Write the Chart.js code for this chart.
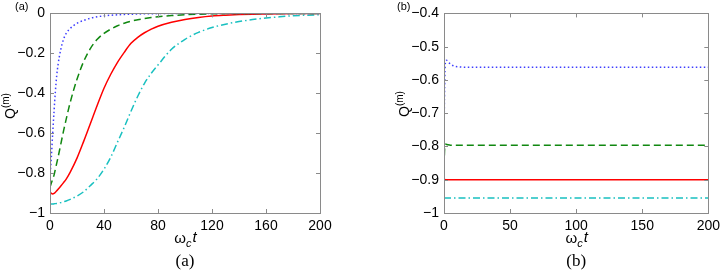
<!DOCTYPE html>
<html>
<head>
<meta charset="utf-8">
<script src="https://cdn.jsdelivr.net/npm/chart.js@4"></script>
<style>
  body { margin: 0; background: #fff; }
  #wrap { position: relative; width: 725px; height: 275px; }
  canvas { position: absolute; top: 0; }
</style>
</head>
<body>
<div id="wrap">
  <canvas id="ca" width="362" height="275" style="left:0"></canvas>
  <canvas id="cb" width="363" height="275" style="left:362px"></canvas>
</div>
<script>
// panel (a): omega_c t
const tA = [0,1,2,3,4,5,6,8,10,12, 15,20,25,30,35,40,45,50,55,60, 65,70,75,80,90,100,110,120,130,140, 150,160,170,180,190,200];
const blueA = [-0.82,-0.72,-0.6,-0.49,-0.39,-0.31,-0.255,-0.18,-0.13,-0.1, -0.075,-0.05,-0.035,-0.024,-0.017,-0.012,-0.009,-0.007,-0.005,-0.004, -0.003,-0.002,-0.002,-0.001,-0.001,0,0,0,0,0, 0,0,0,0,0,0];
const greenA = [-0.87,-0.85,-0.83,-0.81,-0.78,-0.75,-0.72,-0.655,-0.59,-0.53, -0.445,-0.33,-0.24,-0.175,-0.13,-0.1,-0.079,-0.062,-0.049,-0.039, -0.032,-0.026,-0.021,-0.017,-0.011,-0.007,-0.004,-0.002,-0.001,0, 0,0,0,0,0,0];
const redA = [-0.895,-0.902,-0.905,-0.902,-0.896,-0.889,-0.881,-0.865,-0.848,-0.83, -0.795,-0.725,-0.64,-0.55,-0.46,-0.375,-0.305,-0.245,-0.195,-0.15, -0.12,-0.097,-0.079,-0.064,-0.044,-0.03,-0.02,-0.013,-0.009,-0.006, -0.004,-0.003,-0.002,-0.001,-0.001,-0.001];
const cyanA = [-0.955,-0.955,-0.955,-0.954,-0.953,-0.952,-0.951,-0.948,-0.944,-0.94, -0.932,-0.915,-0.893,-0.862,-0.828,-0.78,-0.72,-0.645,-0.57,-0.49, -0.415,-0.35,-0.3,-0.258,-0.18,-0.13,-0.095,-0.071,-0.054,-0.041, -0.031,-0.023,-0.017,-0.012,-0.009,-0.007];

// panel (b)
const tB = [0,0.5,1,2,3,5,8,12,20,50,100,150,200];
const blueB = [-0.77,-0.62,-0.55,-0.541,-0.545,-0.553,-0.559,-0.561,-0.562,-0.562,-0.562,-0.562,-0.562];
const greenB = [-0.86,-0.805,-0.793,-0.794,-0.795,-0.796,-0.796,-0.796,-0.796,-0.796,-0.796,-0.796,-0.796];
const redB = [-0.89,-0.9,-0.9,-0.9,-0.9,-0.9,-0.9,-0.9,-0.9,-0.9,-0.9,-0.9,-0.9];
const cyanB = [-0.955,-0.955,-0.955,-0.955,-0.955,-0.955,-0.955,-0.955,-0.955,-0.955,-0.955,-0.955,-0.955];

const xTicksA = [0,40,80,120,160,200];
const yTicksA = [0,-0.2,-0.4,-0.6,-0.8,-1];
const xTicksB = [0,50,100,150,200];
const yTicksB = [-0.4,-0.5,-0.6,-0.7,-0.8,-0.9,-1];

const frameColor = '#8a8a8a';
const sans = '"Liberation Sans", Arial, sans-serif';
const serif = '"Liberation Serif", "Times New Roman", serif';

function pts(xs, ys) { return xs.map((x, i) => ({ x: x, y: ys[i] })); }

function fmt(v) {
  const r = Math.round(v * 10) / 10;
  if (r === 0) return '0';
  return (r < 0 ? '\u2212' : '') + String(Math.abs(r));
}

const deco = {
  id: 'deco',
  afterDraw(chart, args, o) {
    const ctx = chart.ctx, a = chart.chartArea;
    const xs = chart.scales.x, ys = chart.scales.y;
    ctx.save();
    ctx.strokeStyle = frameColor;
    ctx.lineWidth = 1;
    ctx.strokeRect(Math.round(a.left) + 0.5, Math.round(a.top) + 0.5, Math.round(a.right - a.left), Math.round(a.bottom - a.top));
    ctx.beginPath();
    xs.ticks.forEach(t => {
      const p = Math.round(xs.getPixelForValue(t.value)) + 0.5;
      ctx.moveTo(p, a.bottom); ctx.lineTo(p, a.bottom - 4);
      ctx.moveTo(p, a.top); ctx.lineTo(p, a.top + 4);
    });
    ys.ticks.forEach(t => {
      const p = Math.round(ys.getPixelForValue(t.value)) + 0.5;
      ctx.moveTo(a.left, p); ctx.lineTo(a.left + 4, p);
      ctx.moveTo(a.right, p); ctx.lineTo(a.right - 4, p);
    });
    ctx.stroke();

    ctx.fillStyle = '#000';
    ctx.textBaseline = 'alphabetic';
    // x title: omega_c t
    const cx = (a.left + a.right) / 2;
    ctx.font = '15px ' + sans;
    const w1 = ctx.measureText('\u03c9').width;
    ctx.font = 'italic 11px ' + sans;
    const w2 = ctx.measureText('c').width;
    ctx.font = 'italic 15px ' + sans;
    const w3 = ctx.measureText('t').width;
    let x0 = cx - (w1 + w2 + w3) / 2;
    ctx.textAlign = 'left';
    ctx.font = '15px ' + sans;
    ctx.fillText('\u03c9', x0, 243);
    ctx.font = 'italic 11px ' + sans;
    ctx.fillText('c', x0 + w1, 247);
    ctx.font = 'italic 15px ' + sans;
    ctx.fillText('t', x0 + w1 + w2 + 1, 242);

    // y title: Q^(m)
    ctx.save();
    ctx.translate(o.qx, o.qy);
    ctx.rotate(-Math.PI / 2);
    ctx.font = '14px ' + sans;
    const wq = ctx.measureText('Q').width;
    ctx.font = '10px ' + sans;
    const wm = ctx.measureText('(m)').width;
    const s = -(wq + wm) / 2;
    ctx.font = '14px ' + sans;
    ctx.fillText('Q', s, 0);
    ctx.font = '10px ' + sans;
    ctx.fillText('(m)', s + wq, -6);
    ctx.restore();

    // panel tag
    ctx.font = '11px ' + sans;
    ctx.fillText(o.tag, o.tagx, 10);

    // caption
    ctx.font = '17px ' + serif;
    ctx.textAlign = 'center';
    ctx.fillText(o.tag, cx, 266);
    ctx.restore();
  }
};

function series(xs, b, g, r, c) {
  const base = { fill: false, pointRadius: 0, borderWidth: 1.5, cubicInterpolationMode: 'monotone' };
  return [
    Object.assign({ data: pts(xs, b), borderColor: '#3d3dff', borderDash: [1.5, 2.5] }, base),
    Object.assign({ data: pts(xs, g), borderColor: '#118811', borderDash: [7, 4] }, base),
    Object.assign({ data: pts(xs, r), borderColor: '#ff0000' }, base),
    Object.assign({ data: pts(xs, c), borderColor: '#19c0c0', borderDash: [7, 3, 1.5, 3] }, base)
  ];
}

function makeChart(id, datasets, xt, yt, yw, padRight, deco_opts) {
  new Chart(document.getElementById(id), {
    type: 'line',
    data: { datasets: datasets },
    options: {
      responsive: false,
      animation: false,
      layout: { padding: { top: 5, right: padRight, bottom: 0, left: 0 } },
      plugins: { legend: { display: false }, tooltip: { enabled: false }, deco: deco_opts },
      scales: {
        x: {
          type: 'linear', min: xt[0], max: xt[xt.length - 1],
          grid: { display: false, drawTicks: false },
          border: { display: false },
          afterBuildTicks: s => { s.ticks = xt.map(v => ({ value: v })); },
          afterFit: s => { s.height = 62; },
          ticks: { color: '#000', padding: 5, maxRotation: 0, font: { size: 14, family: sans }, callback: v => String(v) }
        },
        y: {
          min: yt[yt.length - 1], max: yt[0],
          grid: { display: false, drawTicks: false },
          border: { display: false },
          afterBuildTicks: s => { s.ticks = yt.map(v => ({ value: v })); },
          afterFit: s => { s.width = yw; },
          ticks: { color: '#000', padding: 5, font: { size: 14, family: sans }, callback: v => fmt(v) }
        }
      }
    },
    plugins: [deco]
  });
}

makeChart('ca', series(tA, blueA, greenA, redA, cyanA), xTicksA, yTicksA, 50, 42,
  { tag: '(a)', tagx: 15, qx: 15, qy: 106 });
makeChart('cb', series(tB, blueB, greenB, redB, cyanB), xTicksB, yTicksB, 82, 11,
  { tag: '(b)', tagx: 35, qx: 47, qy: 104 });
</script>
</body>
</html>
